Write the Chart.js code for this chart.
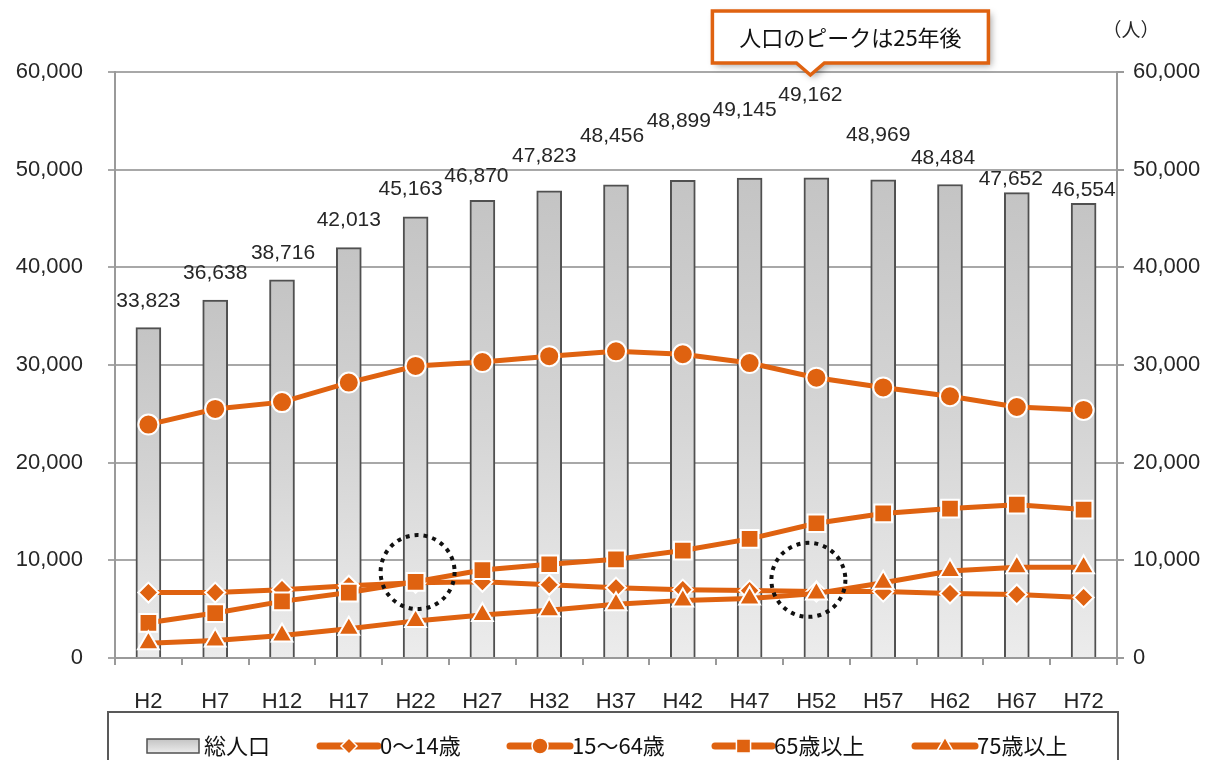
<!DOCTYPE html>
<html><head><meta charset="utf-8">
<script src="https://cdn.jsdelivr.net/npm/chart.js@4/dist/chart.umd.min.js"></script>
<style>html,body{margin:0;padding:0;background:#fff;overflow:hidden}</style>
</head><body>
<canvas id="c" width="1208" height="760"></canvas>
<script>
// ---- data ----
const categories = ['H2','H7','H12','H17','H22','H27','H32','H37','H42','H47','H52','H57','H62','H67','H72'];
const totalPopulation = [33823,36638,38716,42013,45163,46870,47823,48456,48899,49145,49162,48969,48484,47652,46554];
const age0to14  = [6700,6700,7000,7400,7700,7800,7500,7200,7000,6900,6800,6800,6600,6500,6200];
const age15to64 = [23900,25500,26200,28200,29900,30300,30900,31400,31100,30200,28700,27700,26800,25700,25400];
const age65plus = [3600,4600,5800,6700,7800,9000,9600,10100,11000,12200,13800,14800,15300,15700,15200];
const age75plus = [1500,1800,2300,3000,3800,4400,4900,5500,5900,6100,6600,7700,8900,9300,9300];
const yTicks = [0,10000,20000,30000,40000,50000,60000];
const seriesNames = ['総人口','0～14歳','15～64歳','65歳以上','75歳以上'];
const calloutText = '人口のピークは25年後';
const unitText = '（人）';

// ---- styles ----
const ORANGE = '#DF6210';
const FONT = "'Liberation Sans', Arial, 'Noto Sans CJK JP', sans-serif";
const JFONT = "'Noto Sans CJK JP', 'Liberation Sans', sans-serif";
const TEXT = '#262626';
// label offsets (px) relative to bar top centre, to avoid overlaps as in the original
const labelDX = [0,0,1,0,-5,-6,-5,-4,-4,-5,-6,-5,-7,-6,0];
const labelDY = [-26,-27,-27,-27,-28,-24,-35,-49,-59,-68,-83,-45,-26,-13,-13];
const dottedCircles = [{index:4, value:8800, dx:2, r:37},{index:10, value:8000, dx:-8, r:37}];

function fmt(v){ return v.toLocaleString('en-US'); }

function barGradient(ctx){
  const chart = ctx.chart;
  const ys = chart.scales && chart.scales.y;
  if (!ys || ctx.raw == null) return '#d0d0d0';
  const top = ys.getPixelForValue(ctx.raw);
  const bottom = ys.getPixelForValue(0);
  if (!isFinite(top) || !isFinite(bottom) || top === bottom) return '#d0d0d0';
  const g = chart.ctx.createLinearGradient(0, top, 0, bottom);
  g.addColorStop(0, '#c4c4c4');
  g.addColorStop(0.5, '#d5d5d5');
  g.addColorStop(1, '#ececec');
  return g;
}

function drawMarker(ctx, style, x, y, r){
  ctx.beginPath();
  if (style === 'circle') { ctx.arc(x, y, r, 0, Math.PI*2); }
  else if (style === 'rectRot') { ctx.moveTo(x-r,y); ctx.lineTo(x,y-r); ctx.lineTo(x+r,y); ctx.lineTo(x,y+r); ctx.closePath(); }
  else if (style === 'rect') { const s=r*Math.SQRT1_2; ctx.rect(x-s,y-s,2*s,2*s); }
  else if (style === 'triangle') {
    ctx.moveTo(x, y-r); ctx.lineTo(x+r*Math.sin(Math.PI*2/3), y-r*Math.cos(Math.PI*2/3));
    ctx.lineTo(x-r*Math.sin(Math.PI*2/3), y-r*Math.cos(Math.PI*2/3)); ctx.closePath();
  }
  ctx.fill(); ctx.stroke();
}

const overlay = {
  id: 'overlay',
  afterDraw(chart){
    const ctx = chart.ctx, xs = chart.scales.x, ys = chart.scales.y;
    ctx.save();
    // total labels
    ctx.font = '21px ' + FONT; ctx.fillStyle = TEXT; ctx.textAlign = 'center'; ctx.textBaseline = 'middle';
    totalPopulation.forEach((v,i)=>{
      ctx.fillText(fmt(v), xs.getPixelForValue(i) + labelDX[i], ys.getPixelForValue(v) + labelDY[i]);
    });
    // dotted circles
    ctx.strokeStyle = '#111'; ctx.lineWidth = 4; ctx.setLineDash([4,5]);
    dottedCircles.forEach(c=>{
      ctx.beginPath();
      ctx.arc(xs.getPixelForValue(c.index)+c.dx, ys.getPixelForValue(c.value), c.r, 0, Math.PI*2);
      ctx.stroke();
    });
    ctx.setLineDash([]);
    // unit label
    ctx.font = '19px ' + JFONT; ctx.fillStyle = TEXT; ctx.textAlign = 'center';
    ctx.fillText(unitText, 1131, 30);
    // callout
    const peak = totalPopulation.indexOf(Math.max(...totalPopulation));
    const tipX = xs.getPixelForValue(peak) - 6, tipY = ys.getPixelForValue(60000) + 3;
    const L = tipX - 98, R = tipX + 178, T = 11, B = 63;
    ctx.beginPath();
    ctx.moveTo(L,T); ctx.lineTo(R,T); ctx.lineTo(R,B); ctx.lineTo(tipX+14,B); ctx.lineTo(tipX,tipY);
    ctx.lineTo(tipX-14,B); ctx.lineTo(L,B); ctx.closePath();
    ctx.save();
    ctx.shadowColor = 'rgba(0,0,0,0.35)'; ctx.shadowBlur = 7; ctx.shadowOffsetX = 3; ctx.shadowOffsetY = 3;
    ctx.fillStyle = '#fff'; ctx.fill();
    ctx.restore();
    ctx.strokeStyle = ORANGE; ctx.lineWidth = 3.5; ctx.lineJoin = 'miter'; ctx.stroke();
    ctx.fillStyle = '#111'; ctx.font = '22px ' + JFONT; ctx.textAlign = 'center'; ctx.textBaseline = 'middle';
    ctx.fillText(calloutText, (L+R)/2, 38);
    // legend
    ctx.strokeStyle = '#595959'; ctx.lineWidth = 2;
    ctx.strokeRect(108, 712, 1010, 70);
    const ly = 746;
    const g = ctx.createLinearGradient(0, 739, 0, 753);
    g.addColorStop(0,'#c4c4c4'); g.addColorStop(1,'#ececec');
    ctx.fillStyle = g; ctx.fillRect(147, 739, 52, 14);
    ctx.strokeStyle = '#505050'; ctx.lineWidth = 1.5; ctx.strokeRect(147, 739, 52, 14);
    ctx.font = '22px ' + JFONT; ctx.fillStyle = '#111'; ctx.textAlign = 'left'; ctx.textBaseline = 'middle';
    ctx.fillText(chart.data.datasets[0].label, 204, ly);
    const items = [{ds:1,x1:320,x2:378,tx:380},{ds:2,x1:510,x2:570,tx:572},{ds:3,x1:715,x2:772,tx:774},{ds:4,x1:915,x2:975,tx:977}];
    items.forEach(it=>{
      const d = chart.data.datasets[it.ds];
      ctx.strokeStyle = ORANGE; ctx.lineWidth = 7; ctx.lineCap = 'round';
      ctx.beginPath(); ctx.moveTo(it.x1, ly); ctx.lineTo(it.x2, ly); ctx.stroke();
      ctx.lineCap = 'butt';
      ctx.fillStyle = ORANGE; ctx.strokeStyle = '#fff'; ctx.lineWidth = 1.5;
      drawMarker(ctx, d.pointStyle, (it.x1+it.x2)/2, ly, d.pointStyle==='triangle'?9:(d.pointStyle==='rect'?10:8));
      ctx.fillStyle = '#111';
      ctx.fillText(d.label, it.tx, ly);
    });
    ctx.restore();
  }
};

const lineDs = (label, data, style, radius, order) => ({
  type:'line', label, data, order,
  borderColor: ORANGE, borderWidth: 5, backgroundColor: ORANGE,
  pointStyle: style, pointRadius: radius, pointBackgroundColor: ORANGE,
  pointBorderColor: '#fff', pointBorderWidth: 2, tension: 0, fill: false
});

new Chart(document.getElementById('c'), {
  type: 'bar',
  data: {
    labels: categories,
    datasets: [
      { type:'bar', label: seriesNames[0], data: totalPopulation, order: 10,
        backgroundColor: barGradient, borderColor: '#505050', borderWidth: 2, barThickness: 25 },
      lineDs(seriesNames[1], age0to14, 'rectRot', 10, 4),
      lineDs(seriesNames[2], age15to64, 'circle', 10, 3),
      lineDs(seriesNames[3], age65plus, 'rect', 12.5, 2),
      lineDs(seriesNames[4], age75plus, 'triangle', 12, 1)
    ]
  },
  options: {
    responsive: false, animation: false, devicePixelRatio: 1,
    layout: { padding: { top: 72, left: 0, right: 0, bottom: 42 } },
    plugins: { legend: { display: false }, tooltip: { enabled: false } },
    scales: {
      x: {
        offset: true,
        grid: { drawOnChartArea: false, drawTicks: true, tickLength: 7, color: '#9a9a9a', lineWidth: 2, offset: true },
        border: { color: '#9a9a9a', width: 2 },
        ticks: { font: { family: FONT, size: 22 }, color: TEXT, padding: 24, maxRotation: 0 },
        afterFit(s){ s.height = 60; }
      },
      y: {
        position: 'left', min: 0, max: 60000,
        afterBuildTicks(s){ s.ticks = yTicks.map(v=>({value:v})); },
        grid: { color: '#a8a8a8', lineWidth: 2, drawTicks: true, tickLength: 7 },
        border: { color: '#9a9a9a', width: 2 },
        ticks: { font: { family: FONT, size: 22 }, color: TEXT, padding: 25, callback: v => fmt(v) },
        afterFit(s){ s.width = 115; }
      },
      y2: {
        position: 'right', min: 0, max: 60000,
        afterBuildTicks(s){ s.ticks = yTicks.map(v=>({value:v})); },
        grid: { drawOnChartArea: false, color: '#9a9a9a', lineWidth: 2, drawTicks: true, tickLength: 7 },
        border: { color: '#9a9a9a', width: 2 },
        ticks: { font: { family: FONT, size: 22 }, color: TEXT, padding: 9, callback: v => fmt(v) },
        afterFit(s){ s.width = 91; }
      }
    }
  },
  plugins: [overlay]
});
</script>
</body></html>
